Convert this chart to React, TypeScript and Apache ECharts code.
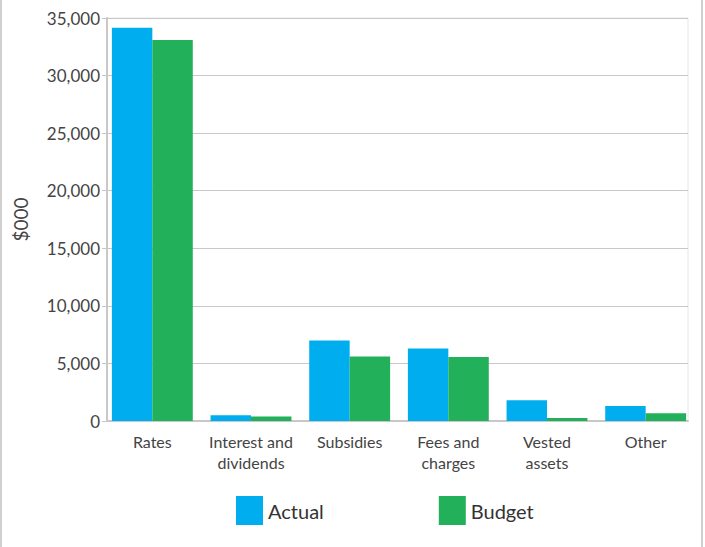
import React, { useEffect, useRef } from "react";
import * as echarts from "echarts";

const categories = ["Rates", "Interest and\ndividends", "Subsidies", "Fees and\ncharges", "Vested\nassets", "Other"];
const actual = [34150, 500, 7000, 6300, 1800, 1300];
const budget = [33100, 400, 5600, 5550, 250, 680];

export default function App() {
  const ref = useRef<HTMLDivElement>(null);
  useEffect(() => {
    const chart = echarts.init(ref.current!, null, { renderer: "svg" });
    const font = "Lato, 'Open Sans', sans-serif";
    const yBase = { type: "value", min: 0, max: 35000, interval: 5000 };
    chart.setOption({
      animation: false,
      backgroundColor: "#fff",
      textStyle: { fontFamily: font },
      grid: [
        { left: 107, right: 17, top: 18, bottom: 126, show: true, borderColor: "#e6e6e6", borderWidth: 1 },
        { left: 103, right: 10, top: 18, bottom: 126 },
      ],
      graphic: [
        { type: "line", shape: { x1: 1, y1: 0, x2: 1, y2: 547 }, style: { stroke: "#d0d0d0", lineWidth: 2 } },
        { type: "line", shape: { x1: 702, y1: 0, x2: 702, y2: 547 }, style: { stroke: "#d0d0d0", lineWidth: 2 } },
      ],
      legend: {
        left: 236,
        top: 496,
        padding: 0,
        icon: "rect",
        itemWidth: 27,
        itemHeight: 29,
        itemGap: 115,
        textStyle: { fontSize: 20, color: "#333", fontFamily: font },
        data: ["Actual", "Budget"],
      },
      xAxis: [
        {
          type: "category",
          gridIndex: 0,
          data: categories,
          axisLine: { lineStyle: { color: "#c8c8c8", width: 2 } },
          axisTick: { show: false },
          axisLabel: { show: false },
        },
        {
          type: "category",
          gridIndex: 1,
          data: categories,
          axisLine: { show: false },
          axisTick: { show: false },
          axisLabel: { fontSize: 16, color: "#444", lineHeight: 21, margin: 10, interval: 0, fontFamily: font },
        },
      ],
      yAxis: [
        {
          ...yBase,
          gridIndex: 0,
          name: "$000",
          nameLocation: "middle",
          nameGap: 77,
          nameRotate: 90,
          nameTextStyle: { fontSize: 19, color: "#444", fontFamily: font },
          axisLine: { show: true, lineStyle: { color: "#c8c8c8", width: 2 } },
          axisTick: { show: true, length: 5, lineStyle: { color: "#c8c8c8" } },
          axisLabel: {
            fontSize: 17,
            color: "#444",
            margin: 7,
            fontFamily: font,
            formatter: (v: number) => v.toLocaleString("en-US"),
          },
          splitLine: { lineStyle: { color: "#c8c8c8", width: 1 } },
        },
        {
          ...yBase,
          gridIndex: 1,
          show: false,
        },
      ],
      series: [
        { name: "Actual", type: "bar", xAxisIndex: 1, yAxisIndex: 1, data: actual, barGap: "0%", barCategoryGap: "18%", itemStyle: { color: "#00AEEF" } },
        { name: "Budget", type: "bar", xAxisIndex: 1, yAxisIndex: 1, data: budget, barGap: "0%", barCategoryGap: "18%", itemStyle: { color: "#22B05A" } },
      ],
    });
    return () => chart.dispose();
  }, []);
  return <div ref={ref} style={{ position: "absolute", left: 0, top: 0, width: 705, height: 547 }} />;
}
